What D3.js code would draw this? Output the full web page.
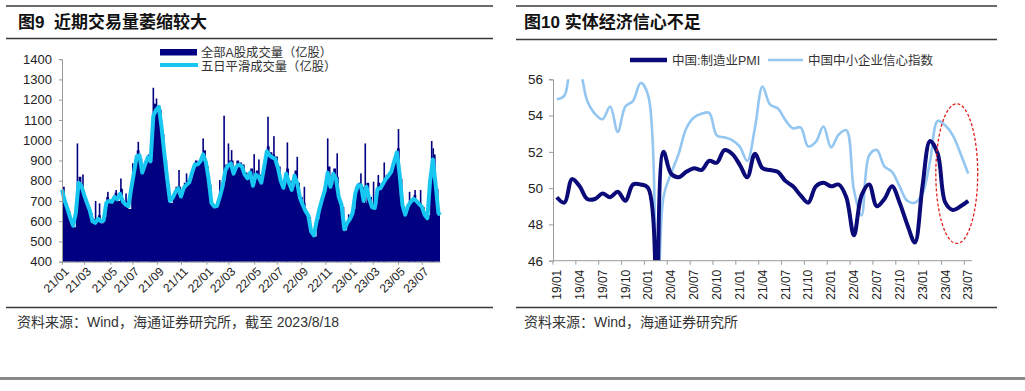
<!DOCTYPE html>
<html><head><meta charset="utf-8">
<script src="https://cdn.jsdelivr.net/npm/d3@7"></script>
<style>
body{margin:0;background:#fff;}
svg{display:block;}
text{font-family:"Liberation Sans","Noto Sans CJK SC",sans-serif;white-space:pre;}
</style></head><body>
<svg id="c" width="1025" height="391"></svg>
<script>
// ---------------- Data: Figure 9 (weekly readings, 亿股) ----------------
const volStart = "2021-01-04";
const volEnd = "2023-08-18";
const volume = [770,690,650,600,570,700,820,760,720,680,
 640,610,600,630,590,620,720,690,710,740,
 700,760,690,700,660,800,870,950,910,860,
 900,930,920,1180,1170,1150,1030,900,780,690,
 730,770,770,740,790,800,810,870,900,890,
 920,950,870,780,680,680,690,740,800,880,
 900,900,850,900,890,880,840,830,860,790,
 850,830,810,890,970,940,930,920,870,790,
 780,860,800,770,850,790,720,690,640,620,
 540,525,610,680,740,780,870,780,860,820,
 700,670,555,600,620,660,770,790,770,690,
 790,720,660,680,790,770,800,830,840,870,
 920,960,810,670,640,690,710,730,700,690,
 670,625,630,850,930,760,630];
const smooth5 = [755,700,660,615,578,640,790,775,730,690,
 655,600,592,612,600,603,690,700,695,720,
 708,735,698,682,673,760,840,920,925,840,
 880,915,895,1120,1150,1165,1060,930,810,700,
 715,745,762,722,765,780,792,840,880,880,
 895,930,890,805,690,672,675,720,770,850,
 875,885,835,870,880,870,830,812,840,775,
 830,820,790,865,945,925,915,908,865,800,
 765,835,790,755,825,785,715,680,650,628,
 550,530,600,660,710,755,840,770,835,810,
 720,680,560,590,610,640,740,778,778,700,
 770,710,670,665,760,762,785,808,825,845,
 895,940,830,680,632,675,696,710,700,685,
 672,632,615,800,905,780,640,630];
const spikeDates = ["2021-02-12","2021-02-26","2021-03-30","2021-04-09","2021-04-30","2021-05-21","2021-06-02","2021-06-15","2021-07-02","2021-07-16","2021-08-17","2021-08-23","2021-08-25","2021-08-31","2021-10-27","2021-11-15","2021-12-27","2022-02-07","2022-02-18","2022-03-01","2022-03-09","2022-05-05","2022-05-17","2022-06-09","2022-06-24","2022-07-28","2022-08-22","2022-09-09","2022-11-07","2022-12-01","2022-12-30","2023-01-30","2023-02-10","2023-03-03","2023-03-15","2023-03-30","2023-05-05","2023-06-02","2023-06-16","2023-06-30","2023-07-28","2023-08-01"];
const spikeValues = [984,831,700,688,745,754,811,737,886,992,1000,1259,1180,1206,853,836,1009,803,1121,984,951,931,905,1116,1020,989,918,770,1009,935,634,836,984,795,828,890,1055,745,754,754,996,960];
const leftYTicks = [400,500,600,700,800,900,1000,1100,1200,1300,1400];
const leftXTickDates = ["2021-01-04","2021-03-01","2021-05-06","2021-07-01","2021-09-01","2021-11-01","2022-01-04","2022-03-01","2022-05-05","2022-07-01","2022-09-01","2022-11-01","2023-01-03","2023-03-01","2023-05-04","2023-07-03"];
const leftXTickLabels = ["21/01","21/03","21/05","21/07","21/09","21/11","22/01","22/03","22/05","22/07","22/09","22/11","23/01","23/03","23/05","23/07"];

// ---------------- Data: Figure 10 (monthly) ----------------
const monthStart = "2019-01-01", monthEnd = "2023-07-01";
const pmi = [49.5,49.2,50.5,50.1,49.4,49.4,49.7,49.5,49.8,49.3,50.2,50.2,
 50.0,35.7,52.0,50.8,50.6,50.9,51.1,51.0,51.5,51.4,52.1,51.9,
 51.3,50.6,51.9,51.1,51.0,50.9,50.4,50.1,49.6,49.2,50.1,50.3,
 50.1,50.2,49.5,47.4,49.6,50.2,49.0,49.4,50.1,49.2,48.0,47.0,
 50.1,52.6,51.9,49.2,48.8,49.0,49.3];
const smeConfidence = [54.9,55.1,57.0,56.5,54.8,54.1,53.8,54.5,53.1,54.5,54.8,55.8,
 55.1,32.0,49.5,50.8,51.9,53.3,53.9,54.1,54.15,52.9,52.8,52.65,
 52.3,51.5,53.3,55.6,54.6,54.4,53.75,53.3,53.35,52.3,52.55,53.4,
 52.25,52.95,53.2,49.9,48.5,51.8,52.1,51.2,50.9,50.1,49.3,49.2,
 49.7,51.5,53.7,53.45,52.9,51.9,50.8];
const rightYTicks = [46,48,50,52,54,56];
const highlight = {month:"2023-05-01", center:50.8, halfHeight:3.85, halfMonths:2.75};

// ---------------- Drawing ----------------
const svg = d3.select("#c");
svg.append("rect").attr("width",1025).attr("height",391).attr("fill","#fff");
const parse = d3.timeParse("%Y-%m-%d");
const ruleColor = "#3a3a3a";

function rule(x1,x2,y,w){ svg.append("line").attr("x1",x1).attr("x2",x2).attr("y1",y).attr("y2",y).attr("stroke",ruleColor).attr("stroke-width",w); }
rule(6,493,6,1.6); rule(6,493,38.5,1.6); rule(6,493,307.5,1.6);
rule(516,997,6,1.6); rule(516,997,39.5,1.6); rule(516,997,307.5,1.6);
svg.append("rect").attr("x",0).attr("y",377).attr("width",1025).attr("height",3).attr("fill","#8a8a8a");

svg.append("text").attr("x",18).attr("y",28).attr("font-size",17).attr("font-weight","bold").attr("fill","#111").text("图9\u00a0\u00a0近期交易量萎缩较大");
svg.append("text").attr("x",524).attr("y",28).attr("font-size",17).attr("font-weight","bold").attr("fill","#111").text("图10 实体经济信心不足");
svg.append("text").attr("x",17).attr("y",327).attr("font-size",14).attr("fill","#333").text("资料来源：Wind，海通证券研究所，截至 2023/8/18");
svg.append("text").attr("x",524).attr("y",327).attr("font-size",14).attr("fill","#333").text("资料来源：Wind，海通证券研究所");

// ----- Left chart -----
const t0 = parse(volStart), tEnd = parse(volEnd);
const weekDates = volume.map((d,i)=>d3.timeDay.offset(t0, 7*i));
const lineDates = weekDates.concat([tEnd]);
const xL = d3.scaleTime().domain([t0,tEnd]).range([62,440]);
const yL = d3.scaleLinear().domain([400,1400]).range([261.7,59.2]);
const gL = svg.append("g");
const volPts = volume.map((v,i)=>({t:weekDates[i],v})).concat([{t:tEnd,v:volume[volume.length-1]}]);
gL.append("path").datum(volPts).attr("fill","#000080")
  .attr("d",d3.area().x(d=>xL(d.t)).y0(yL(400)).y1(d=>yL(d.v)).curve(d3.curveStepAfter));
gL.selectAll("rect.s").data(spikeValues).join("rect").attr("class","s")
  .attr("x",(d,i)=>xL(parse(spikeDates[i]))-0.8).attr("width",1.6)
  .attr("y",d=>yL(d)).attr("height",d=>yL(400)-yL(d)).attr("fill","#000080");
gL.append("path").datum(smooth5).attr("fill","none").attr("stroke","#18c6f2").attr("stroke-width",4).attr("stroke-linejoin","round")
  .attr("d",d3.line().x((d,i)=>xL(lineDates[i])).y(d=>yL(d)));
const axY = svg.append("g").attr("transform","translate(62,0)").call(d3.axisLeft(yL).tickValues(leftYTicks).tickFormat(d3.format("d")).tickSize(3).tickPadding(7));
const axX = svg.append("g").attr("transform","translate(0,261.7)").call(d3.axisBottom(xL).tickValues(leftXTickDates.map(parse)).tickFormat((d,i)=>leftXTickLabels[i]).tickSize(3).tickSizeOuter(0));
axX.selectAll("text").attr("transform","rotate(-45)").attr("text-anchor","end").attr("dx","-0.2em").attr("dy","0.55em");
[axY,axX].forEach(a=>{a.select(".domain").attr("stroke","#9a9a9a"); a.selectAll(".tick line").attr("stroke","#9a9a9a"); a.selectAll("text").attr("font-size",13).attr("fill","#222").attr("font-family","Liberation Sans");});
axX.selectAll("text").attr("font-size",12);
svg.append("rect").attr("x",160).attr("y",49).attr("width",37).attr("height",6.5).attr("fill","#000080");
svg.append("line").attr("x1",160).attr("x2",198).attr("y1",65).attr("y2",65).attr("stroke","#18c6f2").attr("stroke-width",4);
svg.append("text").attr("x",201).attr("y",56.5).attr("font-size",12.3).attr("fill","#333").text("全部A股成交量（亿股）");
svg.append("text").attr("x",201).attr("y",70.5).attr("font-size",12.3).attr("fill","#333").text("五日平滑成交量（亿股）");

// ----- Right chart -----
const months = d3.timeMonth.range(parse(monthStart), d3.timeMonth.offset(parse(monthEnd),1));
const fmt = d3.timeFormat("%y/%m");
const xR = d3.scaleBand().domain(months.map(fmt)).range([553,972]);
const bw = xR.bandwidth();
const yR = d3.scaleLinear().domain([46,56]).range([260.7,79.3]);
svg.append("clipPath").attr("id","clipR").append("rect").attr("x",553).attr("y",yR(56)).attr("width",420).attr("height",yR(46)-yR(56));
const gR = svg.append("g").attr("clip-path","url(#clipR)");
const lineR = d3.line().x((d,i)=>xR(fmt(months[i]))+bw/2).y(d=>yR(d)).curve(d3.curveCatmullRom.alpha(0.5));
gR.append("path").datum(smeConfidence).attr("fill","none").attr("stroke","#93c6f0").attr("stroke-width",2.6).attr("d",lineR);
gR.append("path").datum(pmi).attr("fill","none").attr("stroke","#0a0a78").attr("stroke-width",4).attr("stroke-linejoin","round").attr("d",lineR);
const axYR = svg.append("g").attr("transform","translate(553,0)").call(d3.axisLeft(yR).tickValues(rightYTicks).tickSize(4).tickPadding(6));
const tickMonths = months.filter((d,i)=>i%3===0).map(fmt);
const axXR = svg.append("g").attr("transform",`translate(0,${yR(46)})`);
axXR.append("line").attr("x1",553).attr("x2",972).attr("stroke","#9a9a9a");
axXR.selectAll("line.t").data(tickMonths).join("line").attr("class","t").attr("x1",d=>xR(d)).attr("x2",d=>xR(d)).attr("y1",0).attr("y2",4).attr("stroke","#9a9a9a");
axXR.selectAll("text").data(tickMonths).join("text").attr("transform",d=>`translate(${xR(d)+bw/2},9) rotate(-90)`).attr("text-anchor","end").attr("dy","0.35em").attr("font-size",12).attr("fill","#222").text(d=>d);
axYR.select(".domain").attr("stroke","#9a9a9a"); axYR.selectAll(".tick line").attr("stroke","#9a9a9a"); axYR.selectAll("text").attr("font-size",13.5).attr("fill","#222");
const hm = xR(fmt(parse(highlight.month)))+bw;
svg.append("ellipse").attr("cx",hm).attr("cy",yR(highlight.center)).attr("rx",highlight.halfMonths*bw).attr("ry",yR(highlight.center-highlight.halfHeight)-yR(highlight.center))
  .attr("fill","none").attr("stroke","#e0201e").attr("stroke-width",1.3).attr("stroke-dasharray","3,2");
svg.append("line").attr("x1",630).attr("x2",667).attr("y1",60).attr("y2",60).attr("stroke","#0a0a78").attr("stroke-width",4.5);
svg.append("text").attr("x",672).attr("y",64.5).attr("font-size",12.5).attr("fill","#333").text("中国:制造业PMI");
svg.append("line").attr("x1",768).attr("x2",803).attr("y1",60).attr("y2",60).attr("stroke","#93c6f0").attr("stroke-width",2.6);
svg.append("text").attr("x",808).attr("y",64.5).attr("font-size",12.5).attr("fill","#333").text("中国中小企业信心指数");
</script></body></html>
